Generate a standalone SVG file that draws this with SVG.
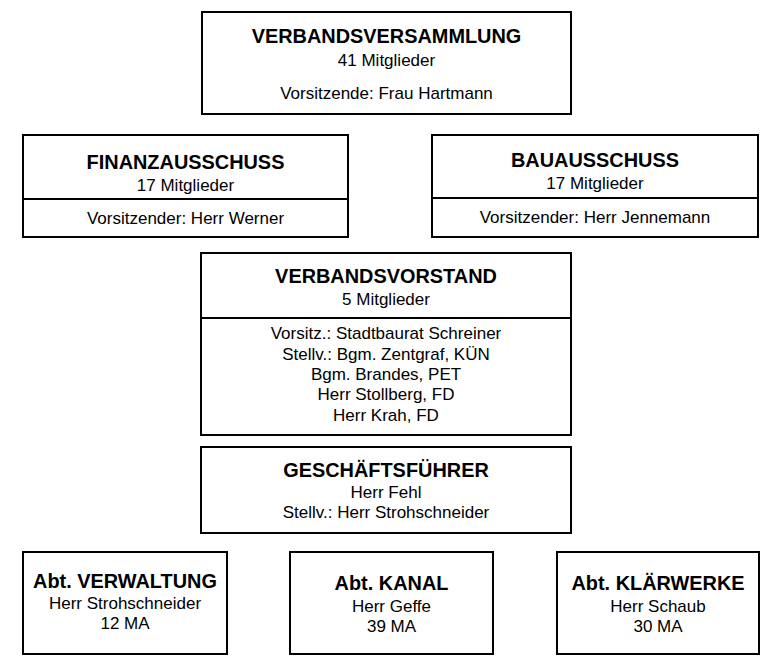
<svg xmlns="http://www.w3.org/2000/svg" width="780" height="661" viewBox="0 0 780 661">
<style>
.box{fill:#fff;stroke:#000;stroke-width:2}
.div{stroke:#000;stroke-width:2}
text{font-family:"Liberation Sans",Arial,sans-serif;fill:#000;text-anchor:middle}
.t{font-weight:bold;font-size:19.9px}
.r{font-size:17px}
</style>
<rect width="780" height="661" fill="#fff"/>
<g id="connectors"></g>
<g id="verbandsversammlung">
<rect class="box" x="202" y="12" width="369" height="102"/>
<text class="t" x="386.5" y="43">VERBANDSVERSAMMLUNG</text>
<text class="r" x="386.5" y="66">41 Mitglieder</text>
<text class="r" x="386.5" y="99">Vorsitzende: Frau Hartmann</text>
</g>
<g id="finanzausschuss">
<rect class="box" x="23" y="135" width="325" height="102"/>
<line class="div" x1="23" y1="199" x2="348" y2="199"/>
<text class="t" x="185.5" y="169">FINANZAUSSCHUSS</text>
<text class="r" x="185.5" y="191">17 Mitglieder</text>
<text class="r" x="185.5" y="224">Vorsitzender: Herr Werner</text>
</g>
<g id="bauausschuss">
<rect class="box" x="432" y="135" width="326" height="102"/>
<line class="div" x1="432" y1="198" x2="758" y2="198"/>
<text class="t" x="595" y="167">BAUAUSSCHUSS</text>
<text class="r" x="595" y="189">17 Mitglieder</text>
<text class="r" x="595" y="223">Vorsitzender: Herr Jennemann</text>
</g>
<g id="verbandsvorstand">
<rect class="box" x="201" y="253" width="370" height="182"/>
<line class="div" x1="201" y1="318" x2="571" y2="318"/>
<text class="t" x="386" y="283">VERBANDSVORSTAND</text>
<text class="r" x="386" y="305">5 Mitglieder</text>
<text class="r" x="386" y="339">Vorsitz.: Stadtbaurat Schreiner</text>
<text class="r" x="386" y="360">Stellv.: Bgm. Zentgraf, KÜN</text>
<text class="r" x="386" y="380">Bgm. Brandes, PET</text>
<text class="r" x="386" y="400">Herr Stollberg, FD</text>
<text class="r" x="386" y="421">Herr Krah, FD</text>
</g>
<g id="geschaeftsfuehrer">
<rect class="box" x="201" y="447" width="370" height="86"/>
<text class="t" x="386" y="477">GESCHÄFTSFÜHRER</text>
<text class="r" x="386" y="498">Herr Fehl</text>
<text class="r" x="386" y="518">Stellv.: Herr Strohschneider</text>
</g>
<g id="abt-verwaltung">
<rect class="box" x="23" y="552" width="204" height="102"/>
<text class="t" x="125" y="588">Abt. VERWALTUNG</text>
<text class="r" x="125" y="609">Herr Strohschneider</text>
<text class="r" x="125" y="629">12 MA</text>
</g>
<g id="abt-kanal">
<rect class="box" x="290" y="552" width="203" height="102"/>
<text class="t" x="391.5" y="590">Abt. KANAL</text>
<text class="r" x="391.5" y="612">Herr Geffe</text>
<text class="r" x="391.5" y="632">39 MA</text>
</g>
<g id="abt-klaerwerke">
<rect class="box" x="557" y="552" width="202" height="102"/>
<text class="t" x="658" y="590">Abt. KLÄRWERKE</text>
<text class="r" x="658" y="612">Herr Schaub</text>
<text class="r" x="658" y="632">30 MA</text>
</g>
</svg>
